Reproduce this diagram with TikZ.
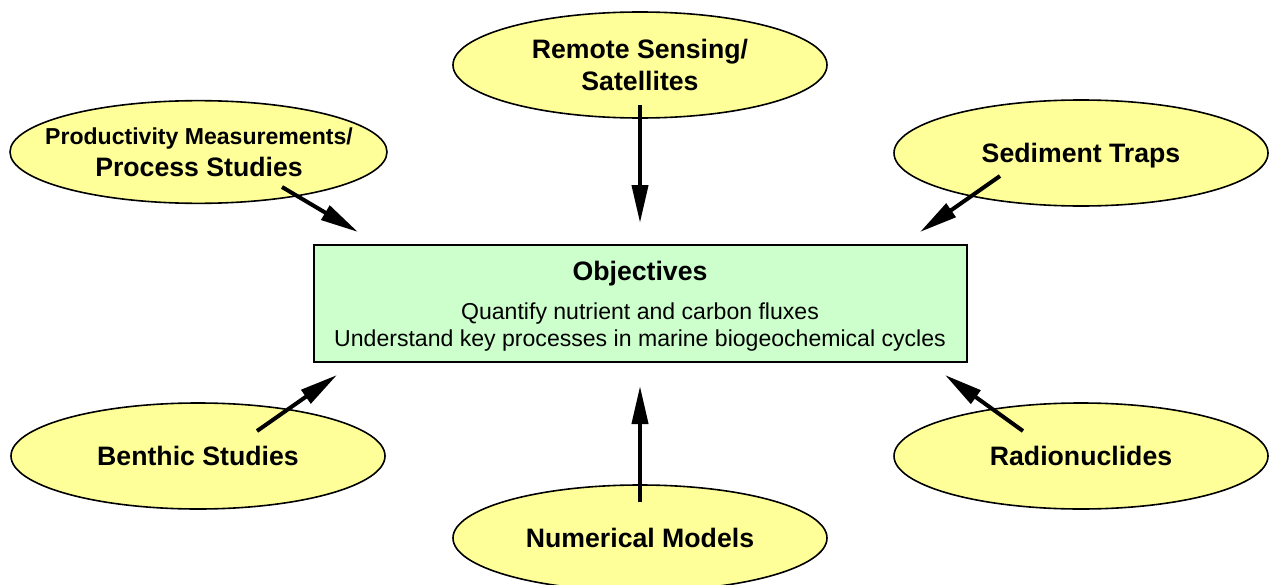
\documentclass[tikz,border=0pt]{standalone}
\usepackage{fontspec}
\setmainfont{Liberation Sans}
\usetikzlibrary{shapes.geometric,arrows.meta}
\definecolor{ellfill}{HTML}{FFFF99}
\definecolor{boxfill}{HTML}{CCFFCC}
\begin{document}
\begin{tikzpicture}[x=0.75pt,y=-0.75pt,
  src/.style={ellipse, draw=black, line width=1.2pt, fill=ellfill,
    minimum width=280.5pt, minimum height=79.5pt, inner sep=0pt, align=center,
    font=\bfseries\fontsize{20}{24}\selectfont},
  oneline/.style={text height=14.3pt, text depth=0pt},
  smallline/.style={text height=12.4pt, text depth=0pt},
  srctext/.style={inner sep=0pt, align=center, font=\bfseries\fontsize{20}{24}\selectfont},
  objbox/.style={rectangle, draw=black, line width=1.5pt, fill=boxfill,
    minimum width=489.75pt, minimum height=87.75pt, inner sep=0pt},
  objtitle/.style={inner sep=0pt, oneline, font=\bfseries\fontsize{20}{24}\selectfont},
  objline/.style={inner sep=0pt, smallline, font=\fontsize{17.3}{20}\selectfont},
  flow/.style={line width=3pt, -{Triangle[length=28.5pt,width=12pt]}}
]
\useasboundingbox (0,0) rectangle (1270,585);

% central box
\node[objbox] (obj) at (640,303.5) {};
\node[objtitle] (objt) at (640,271) {Objectives};
\node[objline] (obj1) at (640,311) {Quantify nutrient and carbon fluxes};
\node[objline] (obj2) at (640,338) {Understand key processes in marine biogeochemical cycles};

% ellipses
\node[src] (rs) at (640,65) {Remote Sensing/\\Satellites};
\node[src, minimum width=282.75pt, minimum height=77pt] (pm) at (198.5,152) {};
\node[srctext] (pmt) at (199,152)
  {{\fontsize{17.3}{24}\selectfont Productivity Measurements/}\\Process Studies};
\node[src, oneline] (st) at (1081,153) {Sediment Traps};
\node[src, oneline] (bs) at (198,456) {Benthic Studies};
\node[src, oneline] (rn) at (1081,456) {Radionuclides};
\node[src, oneline] (nm) at (640,538) {Numerical Models};

% arrow end points
\coordinate (rsA) at (640,105);  \coordinate (rsB) at (640,223);
\coordinate (pmA) at (282,187);  \coordinate (pmB) at (358,232);
\coordinate (stA) at (1000,176); \coordinate (stB) at (920,232);
\coordinate (bsA) at (257,431);  \coordinate (bsB) at (337,375);
\coordinate (rnA) at (1023,431); \coordinate (rnB) at (945,375);
\coordinate (nmA) at (640,502);  \coordinate (nmB) at (640,386);

\draw[flow] (rsA) -- (rsB);
\draw[flow] (pmA) -- (pmB);
\draw[flow] (stA) -- (stB);
\draw[flow] (bsA) -- (bsB);
\draw[flow] (rnA) -- (rnB);
\draw[flow] (nmA) -- (nmB);
\end{tikzpicture}
\end{document}
